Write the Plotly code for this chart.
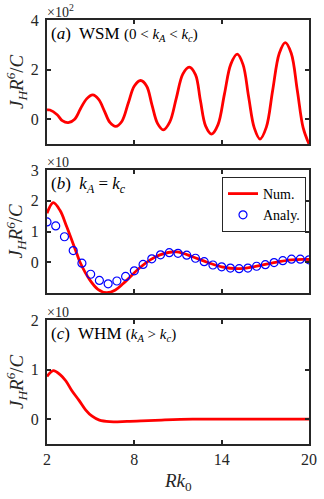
### Three stacked panels : J_H R^6 / C versus R k0 ###
import plotly.graph_objects as go

### Data ###
# (a) WSM, values in units of 10^2
xa = [2.0, 2.2, 2.7, 3.05, 3.46, 3.9, 4.3, 4.72, 5.14, 5.55, 5.93, 6.32, 6.72, 7.15, 7.58, 8.0,
      8.43, 8.85, 9.21, 9.6, 9.99, 10.43, 10.88, 11.33, 11.77, 12.2, 12.54, 12.9, 13.31, 13.75,
      14.19, 14.63, 15.07, 15.47, 15.85, 16.24, 16.63, 17.07, 17.5, 17.96, 18.37, 18.78, 19.2,
      19.6, 20.0]
ya = [0.375, 0.37, 0.18, -0.06, -0.14, 0.0, 0.42, 0.82, 0.98, 0.80, 0.35, -0.13, -0.29, -0.08,
      0.64, 1.34, 1.56, 1.33, 0.58, -0.18, -0.43, -0.12, 0.84, 1.82, 2.10, 1.80, 0.75, -0.28,
      -0.60, -0.22, 1.01, 2.22, 2.62, 2.20, 0.91, -0.35, -0.80, -0.32, 1.15, 2.66, 3.09, 2.66,
      1.15, -0.35, -1.0]

# (b) k_A = k_c, values in units of 10
xb_num = [2.0, 2.43, 2.9, 3.35, 4.04, 4.27, 4.95, 5.5, 6.1, 6.7, 7.24, 8.39, 9.07,
          9.76, 10.9, 12.0, 13.0, 14.0, 15.1, 16.2, 17.5, 18.8, 20.0]
yb_num = [1.59, 1.94, 1.68, 1.16, 0.29, 0.0, -0.58, -0.88, -0.99, -0.90, -0.69, -0.17, 0.07,
          0.24, 0.34, 0.18, 0.0, -0.15, -0.21, -0.15, -0.02, 0.08, 0.09]
xb_ana = [2.0, 2.6, 3.2, 3.8, 4.4, 5.0, 5.6, 6.2, 6.8, 7.4, 8.0, 8.6, 9.2, 9.8, 10.4, 11.0,
          11.6, 12.2, 12.8, 13.4, 14.0, 14.6, 15.2, 15.8, 16.4, 17.0, 17.6, 18.2, 18.8, 19.4, 20.0]
yb_ana = [1.31, 1.18, 0.83, 0.38, -0.03, -0.39, -0.59, -0.70, -0.61, -0.46, -0.28, -0.07, 0.11,
          0.24, 0.31, 0.29, 0.23, 0.13, 0.02, -0.09, -0.15, -0.19, -0.21, -0.19, -0.13, -0.08,
          -0.01, 0.05, 0.10, 0.10, 0.08]

# (c) WHM, values in units of 10
xc = [2.0, 2.43, 2.9, 3.3, 3.7, 4.2, 4.65, 5.1, 5.6, 6.3, 7.5, 8.5, 10.1, 12.0, 14.0, 17.0, 20.0]
yc = [0.86, 0.98, 0.90, 0.77, 0.58, 0.38, 0.19, 0.06, -0.02, -0.05, -0.045, -0.035, -0.015,
      0.0, 0.0, 0.0, 0.0]

x_ticks = [2, 8, 14, 20]
y_ranges = [[-1, 4], [-1, 3], [-0.5, 2]]
y_ticks = [[0, 2, 4], [0, 1, 2, 3], [0, 1, 2]]
multipliers = ['×10<sup>2</sup>', '×10', '×10']
labels = ['(<i>a</i>)  WSM <span style="font-size:15px">(0 &lt; <i>k<sub>A</sub></i> &lt; <i>k<sub>c</sub></i>)</span>',
          '(<i>b</i>)  <i>k<sub>A</sub></i> = <i>k<sub>c</sub></i>',
          '(<i>c</i>)  WHM <span style="font-size:15px">(<i>k<sub>A</sub></i> &gt; <i>k<sub>c</sub></i>)</span>']

### Layout geometry (pixels) ###
W, H = 324, 499
left, right = 47, 309
tops = [20, 170, 320]
bottoms = [144, 293, 444]

FONT = 'Liberation Serif, Times New Roman, Times, serif'
DARK = '#262626'

fig = go.Figure()

fig.add_scatter(x=xa, y=ya, mode='lines', line=dict(color='#ff0000', width=2.8, shape='spline'),
                xaxis='x', yaxis='y', showlegend=False)
fig.add_scatter(x=xb_num, y=yb_num, mode='lines', name='Num.',
                line=dict(color='#ff0000', width=2.8, shape='spline'), xaxis='x2', yaxis='y2')
fig.add_scatter(x=xb_ana, y=yb_ana, mode='markers', name='Analy.',
                marker=dict(symbol='circle-open', size=8, color='#0000ff', line=dict(width=1.2)),
                xaxis='x2', yaxis='y2')
fig.add_scatter(x=xc, y=yc, mode='lines', line=dict(color='#ff0000', width=2.8, shape='spline'),
                xaxis='x3', yaxis='y3', showlegend=False)

axis_style = dict(showline=True, linewidth=2, linecolor=DARK, mirror='ticks',
                  ticks='inside', ticklen=4, tickwidth=1.5, tickcolor=DARK,
                  showgrid=False, zeroline=False, automargin=False,
                  tickfont=dict(family=FONT, size=16, color=DARK))

layout = dict(width=W, height=H, margin=dict(l=0, r=0, t=0, b=0),
              plot_bgcolor='white', paper_bgcolor='white',
              font=dict(family=FONT),
              legend=dict(x=(right - 3) / W, y=1 - (tops[1] + 7) / H, xanchor='right', yanchor='top',
                          bgcolor='white', bordercolor=DARK, borderwidth=1, itemwidth=30,
                          tracegroupgap=0, font=dict(family=FONT, size=14, color='black')))
annotations = []
for i in range(3):
    n = '' if i == 0 else str(i + 1)
    ydom = [1 - bottoms[i] / H, 1 - tops[i] / H]
    layout['xaxis' + n] = dict(axis_style, domain=[left / W, right / W], range=[2, 20],
                               tickvals=x_ticks, showticklabels=(i == 2), anchor='y' + n)
    layout['yaxis' + n] = dict(axis_style, domain=ydom, range=y_ranges[i],
                               tickvals=y_ticks[i], anchor='x' + n, ticklabelstandoff=3)
    # multiplier above the top-left corner
    annotations.append(dict(x=(left - 1) / W, y=1 - (tops[i] + 1) / H, xref='paper', yref='paper',
                            text=multipliers[i], showarrow=False, xanchor='left', yanchor='bottom',
                            borderpad=0, font=dict(family=FONT, size=14, color=DARK)))
    # panel label
    annotations.append(dict(x=(left + 2) / W, y=1 - (tops[i] + 2) / H, xref='paper', yref='paper',
                            text=labels[i], showarrow=False, xanchor='left', yanchor='top',
                            font=dict(family=FONT, size=17, color='black')))
    # y axis title
    annotations.append(dict(x=16 / W, y=sum(ydom) / 2, xref='paper', yref='paper',
                            text='<i>J<sub>H</sub>R<sup>6</sup></i>/<i>C</i>', textangle=-90,
                            showarrow=False, xanchor='center', yanchor='middle',
                            font=dict(family=FONT, size=19, color=DARK)))
# x axis title
annotations.append(dict(x=(left + right) / 2 / W, y=1 - 482 / H, xref='paper', yref='paper',
                        text='<i>Rk</i><sub>0</sub>', showarrow=False, xanchor='center', yanchor='middle',
                        font=dict(family=FONT, size=19, color=DARK)))
layout['annotations'] = annotations
fig.update_layout(layout)

### Page without the default body margin and without the mode bar ###
fig.write_html("out.html", config={'displayModeBar': False},
               post_script="document.body.style.margin = '0';")
